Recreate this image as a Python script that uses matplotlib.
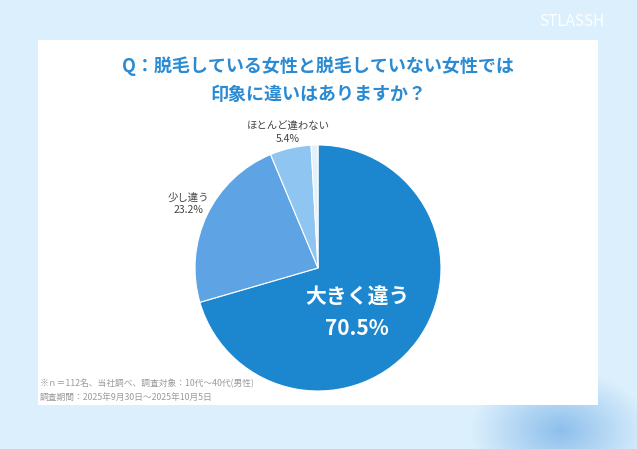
import matplotlib
matplotlib.use("Agg")
import matplotlib.pyplot as plt
from matplotlib.patches import Rectangle
import numpy as np

plt.rcParams['font.family'] = ['Noto Sans CJK JP', 'DejaVu Sans']

labels = ["大きく違う", "少し違う", "ほとんど違わない", "全く違わない"]
values = [70.5, 23.2, 5.4, 0.9]
colors = ["#1c87cf", "#5ea4e4", "#8fc5f1", "#e3f1fb"]

W, H = 637, 449
fig = plt.figure(figsize=(W/100, H/100), dpi=100)
bg = fig.add_axes([0, 0, 1, 1])
bg.set_xlim(0, W); bg.set_ylim(H, 0); bg.axis('off')
yy, xx = np.mgrid[0:H, 0:W]
img = np.ones((H, W, 3))
img[:] = np.array([0.86, 0.94, 0.99])
d = np.sqrt(((xx-560)/90.)**2 + ((yy-430)/60.)**2)
blob = np.clip(1-d, 0, 1)[..., None]
img = img*(1-blob*0.6) + np.array([0.35, 0.62, 0.88])*blob*0.6
bg.imshow(img, extent=[0, W, H, 0], zorder=0)
bg.add_patch(Rectangle((38, 40), 560, 365, facecolor='white', edgecolor='none', zorder=1))
bg.text(572, 22, "STLASSH", color='white', fontsize=11, ha='center', va='center', zorder=2)
bg.text(318, 66, "Q：脱毛している女性と脱毛していない女性では", color='#2a8ad2',
        fontsize=13, fontweight='bold', ha='center', va='center', zorder=2)
bg.text(318, 94, "印象に違いはありますか？", color='#2a8ad2',
        fontsize=13, fontweight='bold', ha='center', va='center', zorder=2)
bg.text(40, 384, "※ｎ＝112名、当社調べ、調査対象：10代～40代(男性)", color='#9a9a9a', fontsize=6.3, ha='left', va='center', zorder=2)
bg.text(40, 397, "調査期間：2025年9月30日～2025年10月5日", color='#9a9a9a', fontsize=6.3, ha='left', va='center', zorder=2)

cx, cy, r = 318, 268, 123
ax = fig.add_axes([(cx-r)/W, (H-cy-r)/H, 2*r/W, 2*r/H])
ax.pie(values, colors=colors, startangle=90, counterclock=False,
       wedgeprops=dict(edgecolor='white', linewidth=0.8))
ax.set_aspect('auto')
ax.set_xlim(-1, 1); ax.set_ylim(-1, 1)
ax.text(0.32, -0.23, labels[0], color='white', fontsize=15, fontweight='bold', ha='center', va='center')
ax.text(0.32, -0.49, f"{values[0]}%", color='white', fontsize=15, fontweight='bold', ha='center', va='center')
bg.text(188, 204, f"{labels[1]}\n{values[1]}%", color='#444444', fontsize=7.5, ha='center', va='center', zorder=2, linespacing=1.3)
bg.text(288, 133, f"{labels[2]}\n{values[2]}%", color='#444444', fontsize=7.5, ha='center', va='center', zorder=2, linespacing=1.3)

fig.savefig("out.png", dpi=100)
